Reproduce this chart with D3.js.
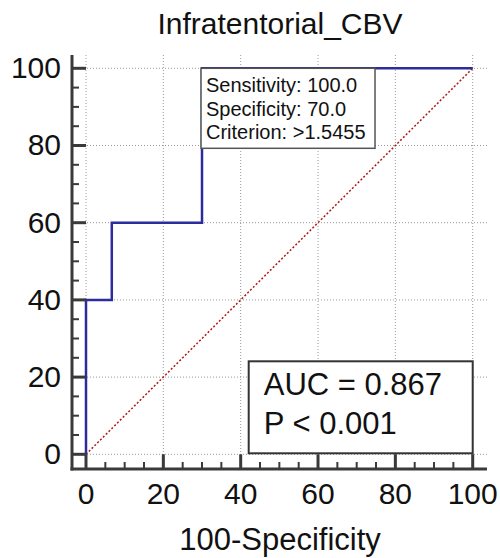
<!DOCTYPE html>
<html>
<head>
<meta charset="utf-8">
<script src="https://cdn.jsdelivr.net/npm/d3@7"></script>
<style>
  body { margin: 0; background: #fff; }
  text { font-family: "Liberation Sans", Arial, sans-serif; fill: #111; }
</style>
</head>
<body>
<div id="roc"></div>
<script>
// ROC curve points (100-Specificity, Sensitivity)
const fpr = [0, 0, 6.67, 6.67, 30, 30, 100];
const tpr = [0, 40, 40, 60, 60, 100, 100];
const majorTicks = [0, 20, 40, 60, 80, 100];
const minorTicks = d3.range(0, 101, 5).filter(d => d % 20 !== 0);
const tipLines = ["Sensitivity: 100.0", "Specificity: 70.0", "Criterion: >1.5455"];
const aucLines = ["AUC = 0.867", "P < 0.001"];
const cutoff = {x: 30, y: 100};

const width = 500, height = 558;

const x = d3.scaleLinear().domain([0, 100]).range([86, 472.7]);
const y = d3.scaleLinear().domain([0, 100]).range([454.3, 68.3]);

// plot frame (axes are offset from the data origin)
const frame = {left: 72, right: 487, top: 55, bottom: 469};

const svg = d3.select('#roc')
  .append('svg')
  .attr('width', width)
  .attr('height', height);

// dotted grid
svg.append('g')
  .selectAll('line')
  .data(majorTicks)
  .join('line')
  .attr('x1', d => x(d)).attr('x2', d => x(d))
  .attr('y1', frame.top).attr('y2', frame.bottom)
  .attr('stroke', '#999').attr('stroke-width', 1)
  .attr('stroke-dasharray', '1,2');
svg.append('g')
  .selectAll('line')
  .data(majorTicks)
  .join('line')
  .attr('y1', d => y(d)).attr('y2', d => y(d))
  .attr('x1', frame.left).attr('x2', frame.right)
  .attr('stroke', '#999').attr('stroke-width', 1)
  .attr('stroke-dasharray', '1,2');

// diagonal reference
svg.append('line')
  .attr('x1', x(0)).attr('y1', y(0))
  .attr('x2', x(100)).attr('y2', y(100))
  .attr('stroke', '#b01818').attr('stroke-width', 1.5)
  .attr('stroke-dasharray', '2,2');

// roc step curve
const pts = fpr.map((d, i) => [d, tpr[i]]);
svg.append('path')
  .datum(pts)
  .attr('d', d3.line().x(d => x(d[0])).y(d => y(d[1])))
  .attr('fill', 'none')
  .attr('stroke', '#2c2c9c')
  .attr('stroke-width', 2.5);

// axes
const axisCol = '#3a3a3a';
svg.append('line')
  .attr('x1', frame.left).attr('x2', frame.left)
  .attr('y1', frame.top).attr('y2', frame.bottom + 1.5)
  .attr('stroke', axisCol).attr('stroke-width', 3);
svg.append('line')
  .attr('x1', frame.left - 1.5).attr('x2', frame.right)
  .attr('y1', frame.bottom).attr('y2', frame.bottom)
  .attr('stroke', axisCol).attr('stroke-width', 3);

// y ticks (pointing inward)
svg.append('g').selectAll('line').data(majorTicks).join('line')
  .attr('x1', frame.left).attr('x2', x(0))
  .attr('y1', d => y(d)).attr('y2', d => y(d))
  .attr('stroke', axisCol).attr('stroke-width', 3);
svg.append('g').selectAll('line').data(minorTicks).join('line')
  .attr('x1', frame.left).attr('x2', frame.left + 7)
  .attr('y1', d => y(d)).attr('y2', d => y(d))
  .attr('stroke', axisCol).attr('stroke-width', 2);
svg.append('g').selectAll('text').data(majorTicks).join('text')
  .attr('x', 61).attr('y', d => y(d)).attr('dy', '0.33em')
  .attr('text-anchor', 'end')
  .style('font-size', '30px')
  .text(d => d);

// x ticks
svg.append('g').selectAll('line').data(majorTicks).join('line')
  .attr('y1', frame.bottom).attr('y2', y(0))
  .attr('x1', d => x(d)).attr('x2', d => x(d))
  .attr('stroke', axisCol).attr('stroke-width', 3);
svg.append('g').selectAll('line').data(minorTicks).join('line')
  .attr('y1', frame.bottom).attr('y2', frame.bottom - 7)
  .attr('x1', d => x(d)).attr('x2', d => x(d))
  .attr('stroke', axisCol).attr('stroke-width', 2);
svg.append('g').selectAll('text').data(majorTicks).join('text')
  .attr('x', d => x(d)).attr('y', 504)
  .attr('text-anchor', 'middle')
  .style('font-size', '30px')
  .text(d => d);

// titles
svg.append('text')
  .attr('x', 280).attr('y', 34)
  .attr('text-anchor', 'middle')
  .style('font-size', '30px')
  .text('Infratentorial_CBV');
svg.append('text')
  .attr('x', 280).attr('y', 550)
  .attr('text-anchor', 'middle')
  .style('font-size', '31px')
  .text('100-Specificity');

// cutoff tooltip
const tip = svg.append('g')
  .attr('transform', `translate(${x(cutoff.x) - 1},${y(cutoff.y)})`);
tip.append('rect')
  .attr('width', 174).attr('height', 80)
  .attr('fill', '#fff').attr('stroke', '#555').attr('stroke-width', 1.5);
tip.selectAll('text').data(tipLines).join('text')
  .attr('x', 5).attr('y', (d, i) => 24 + i * 23.5)
  .style('font-size', '20px')
  .text(d => d);

// AUC box
const aucBox = svg.append('g')
  .attr('transform', `translate(${x(100) - 224},${y(0) - 93})`);
aucBox.append('rect')
  .attr('width', 224).attr('height', 92)
  .attr('fill', '#fff').attr('stroke', '#333').attr('stroke-width', 2);
aucBox.selectAll('text').data(aucLines).join('text')
  .attr('x', 15).attr('y', (d, i) => 34 + i * 39)
  .style('font-size', '31px')
  .text(d => d);
</script>
</body>
</html>
